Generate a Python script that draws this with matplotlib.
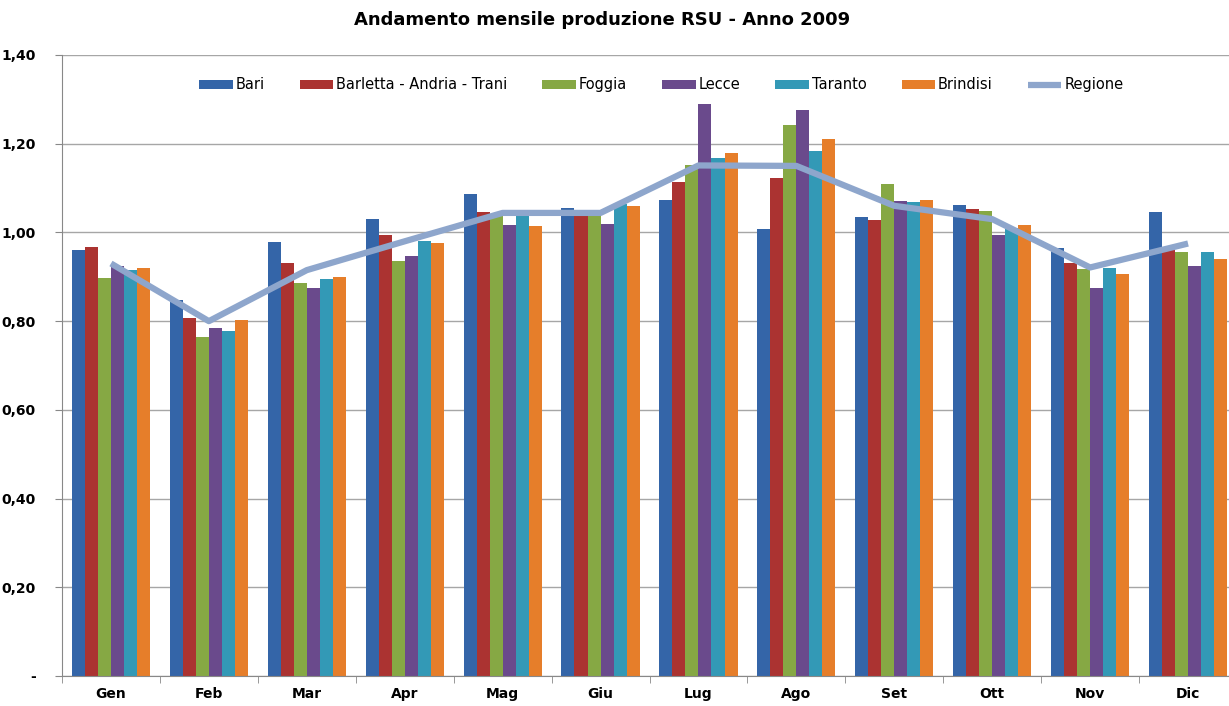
import matplotlib.pyplot as plt
import numpy as np
from matplotlib.ticker import FuncFormatter, FixedLocator

months = ['Gen', 'Feb', 'Mar', 'Apr', 'Mag', 'Giu', 'Lug', 'Ago', 'Set', 'Ott', 'Nov', 'Dic']

bari = [0.960, 0.847, 0.978, 1.030, 1.086, 1.056, 1.072, 1.008, 1.035, 1.061, 0.966, 1.047]
bat = [0.967, 0.807, 0.931, 0.994, 1.047, 1.040, 1.114, 1.122, 1.027, 1.052, 0.930, 0.960]
foggia = [0.897, 0.764, 0.886, 0.936, 1.038, 1.040, 1.153, 1.242, 1.110, 1.049, 0.917, 0.955]
lecce = [0.925, 0.784, 0.875, 0.947, 1.017, 1.020, 1.289, 1.277, 1.071, 0.994, 0.875, 0.925]
taranto = [0.915, 0.778, 0.895, 0.981, 1.039, 1.064, 1.168, 1.183, 1.068, 1.010, 0.919, 0.955]
brindisi = [0.920, 0.803, 0.900, 0.976, 1.014, 1.060, 1.178, 1.211, 1.074, 1.016, 0.906, 0.939]
regione = [0.930, 0.800, 0.915, 0.980, 1.044, 1.044, 1.151, 1.150, 1.060, 1.030, 0.921, 0.975]

series = [
    ('Bari', bari, '#3465a8'),
    ('Barletta - Andria - Trani', bat, '#ab3331'),
    ('Foggia', foggia, '#86a844'),
    ('Lecce', lecce, '#6a4a8c'),
    ('Taranto', taranto, '#3399b6'),
    ('Brindisi', brindisi, '#e67e2a'),
]

fig = plt.figure(figsize=(12.29, 7.06), dpi=100)
ax = fig.add_axes([62 / 1229, 30 / 706, (1237 - 62) / 1229, (676 - 55) / 706])

x = np.arange(len(months))
bw = 0.133
handles = []
for i, (name, vals, col) in enumerate(series):
    b = ax.bar(x + (i - 2.5) * bw, vals, bw, color=col, label=name, zorder=2)
    handles.append(b)

ln, = ax.plot(x, regione, color='#8ea6cc', lw=4.5, solid_capstyle='butt', label='Regione', zorder=3)
handles.append(ln)

ax.set_xlim(-0.5, 11.5)
ax.set_ylim(0, 1.4)
ax.set_yticks(np.arange(0, 1.41, 0.2))
ax.yaxis.set_major_formatter(FuncFormatter(lambda v, p: '-' if abs(v) < 1e-9 else ('%.2f' % v).replace('.', ',')))
ax.yaxis.grid(True, color='#a6a6a6', lw=1, zorder=0)
ax.set_axisbelow(True)

ax.set_xticks(x)
ax.set_xticklabels(months, fontweight='bold', fontsize=10)
ax.xaxis.set_minor_locator(FixedLocator(np.arange(-0.5, 12, 1)))
ax.tick_params(axis='x', which='major', length=0, pad=8)
ax.tick_params(axis='x', which='minor', length=5, color='#888888')
ax.tick_params(axis='y', length=5, color='#888888', labelsize=10, pad=14)
for lab in ax.get_yticklabels():
    lab.set_fontweight('bold')

for s in ['top', 'right']:
    ax.spines[s].set_visible(False)
ax.spines['left'].set_color('#888888')
ax.spines['bottom'].set_color('#888888')

ax.legend(handles, [h.get_label() for h in handles], loc='upper center',
          bbox_to_anchor=(0.51, 0.985), ncol=7, frameon=False,
          handlelength=2.3, handleheight=0.55, columnspacing=2.4, handletextpad=0.2,
          prop={'family': ['Liberation Sans Narrow', 'DejaVu Sans Condensed', 'DejaVu Sans'], 'size': 10.5})

fig.suptitle('Andamento mensile produzione RSU - Anno 2009', y=0.985, fontsize=13,
             fontweight='bold', x=0.49)

fig.savefig('out.png', dpi=100)
